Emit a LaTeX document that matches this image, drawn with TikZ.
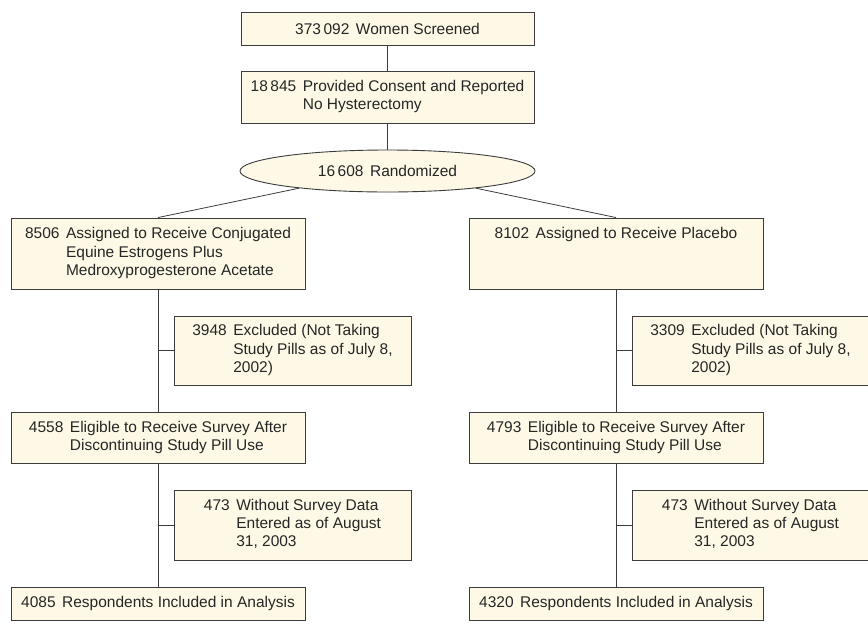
\documentclass[tikz,border=0pt]{standalone}
\usepackage{fontspec}
\setmainfont{Liberation Sans}
\usetikzlibrary{shapes.geometric}
\definecolor{boxfill}{HTML}{FDF9E6}
\definecolor{boxline}{HTML}{3C3C3C}
\newcommand{\entry}[2]{\begin{tabular}{@{}r@{\hspace{0.42em}}l@{}}#1 & #2\end{tabular}}
\begin{document}
\begin{tikzpicture}[x=1pt,y=-1pt,
  every node/.style={font=\fontsize{15.5}{18.3}\selectfont, text=black!85},
  flowbox/.style={draw=boxline, fill=boxfill, line width=0.9pt, rectangle, inner sep=0pt, align=center},
  flowell/.style={draw=boxline, fill=boxfill, line width=0.9pt, ellipse, inner sep=0pt},
  conn/.style={draw=boxline, line width=0.8pt}]
\useasboundingbox (0,0) rectangle (868,630);
% top
\node[flowbox, minimum width=293pt, minimum height=33pt] (screen) at (387.5,28.5) {373\,092\hspace{0.42em}Women Screened};
\node[flowbox, minimum width=293pt, minimum height=52pt] (consent) at (387.5,97) {\entry{18\,845}{Provided Consent and Reported\\ & No Hysterectomy}};
\node[flowell, minimum width=295pt, minimum height=42pt] (rand) at (387.5,171) {16\,608\hspace{0.42em}Randomized};
% left column
\node[flowbox, minimum width=294pt, minimum height=71pt] (cee) at (158,253.5) {\entry{8506}{Assigned to Receive Conjugated\\ & Equine Estrogens Plus\\ & Medroxyprogesterone Acetate}};
\node[flowbox, minimum width=237pt, minimum height=69pt] (exl) at (292.5,350.5) {\entry{3948}{Excluded (Not Taking\\ & Study Pills as of July 8,\\ & 2002)}};
\node[flowbox, minimum width=294pt, minimum height=51pt] (ell) at (158,437.5) {\entry{4558}{Eligible to Receive Survey After\\ & Discontinuing Study Pill Use}};
\node[flowbox, minimum width=237pt, minimum height=70pt] (wol) at (292.5,525) {\entry{473}{Without Survey Data\\ & Entered as of August\\ & 31, 2003}};
\node[flowbox, minimum width=294pt, minimum height=33pt] (rel) at (158,603.5) {\entry{4085}{Respondents Included in Analysis}};
% right column
\node[flowbox, minimum width=294pt, minimum height=71pt] (plc) at (616,253.5) {\entry{8102}{Assigned to Receive Placebo\\ & \\ & }};
\node[flowbox, minimum width=237pt, minimum height=69pt] (exr) at (750.5,350.5) {\entry{3309}{Excluded (Not Taking\\ & Study Pills as of July 8,\\ & 2002)}};
\node[flowbox, minimum width=294pt, minimum height=51pt] (elr) at (616,437.5) {\entry{4793}{Eligible to Receive Survey After\\ & Discontinuing Study Pill Use}};
\node[flowbox, minimum width=237pt, minimum height=70pt] (wor) at (750.5,525) {\entry{473}{Without Survey Data\\ & Entered as of August\\ & 31, 2003}};
\node[flowbox, minimum width=294pt, minimum height=33pt] (rer) at (616,603.5) {\entry{4320}{Respondents Included in Analysis}};
% connectors
\draw[conn] (screen.south) -- (consent.north);
\draw[conn] (consent.south) -- (rand.north);
\draw[conn] (rand.191) -- (cee.north);
\draw[conn] (rand.349) -- (plc.north);
\draw[conn] (cee.south) -- (ell.north);
\draw[conn] (cee.south |- exl.west) -- (exl.west);
\draw[conn] (ell.south) -- (rel.north);
\draw[conn] (ell.south |- wol.west) -- (wol.west);
\draw[conn] (plc.south) -- (elr.north);
\draw[conn] (plc.south |- exr.west) -- (exr.west);
\draw[conn] (elr.south) -- (rer.north);
\draw[conn] (elr.south |- wor.west) -- (wor.west);
\end{tikzpicture}
\end{document}
